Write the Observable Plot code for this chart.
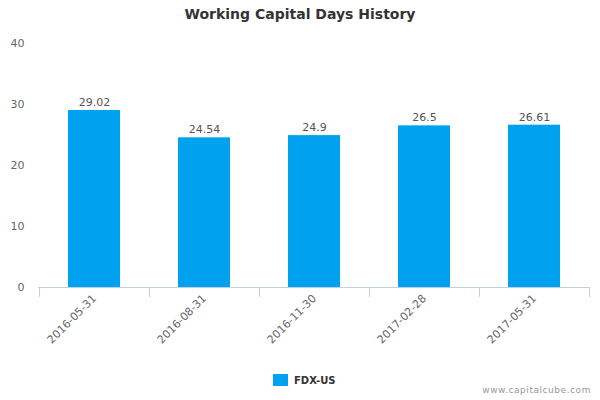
<!DOCTYPE html>
<html>
<head>
<meta charset="utf-8">
<script src="https://cdn.jsdelivr.net/npm/d3@7"></script>
<script src="https://cdn.jsdelivr.net/npm/@observablehq/plot@0.6"></script>
<style>
  html, body { margin: 0; padding: 0; background: #fff; }
  #wrap { position: relative; width: 600px; height: 400px; font-family: "DejaVu Sans", Verdana, sans-serif; }
  #title { position: absolute; left: 0; top: 6px; width: 600px; text-align: center; font-size: 14px; font-weight: bold; color: #333; }
  #legend { position: absolute; left: 273px; top: 374px; font-size: 10px; font-weight: bold; color: #333; display: flex; align-items: center; }
  #legend .sw { display: inline-block; width: 15px; height: 12px; background: #00a2f0; margin-right: 6px; }
  #credit { position: absolute; right: 9px; top: 385px; font-size: 9px; color: #999; letter-spacing: 0.55px; }
  svg { position: absolute; left: 0; top: 0; }
</style>
</head>
<body>
<div id="wrap">
  <div id="chart"></div>
  <div id="title">Working Capital Days History</div>
  <div id="legend"><span class="sw"></span><span>FDX-US</span></div>
  <div id="credit">www.capitalcube.com</div>
</div>
<script>
const dates = ["2016-05-31", "2016-08-31", "2016-11-30", "2017-02-28", "2017-05-31"];
const values = [29.02, 24.54, 24.9, 26.5, 26.61];
const yTicks = [0, 10, 20, 30, 40];
const seriesName = "FDX-US";

const data = dates.map((d, i) => ({date: d, value: values[i], series: seriesName}));

const axisColor = "#c0d0e0";
const barColor = "#00a2f0";

const chart = Plot.plot({
  width: 600,
  height: 400,
  marginLeft: 38,
  marginRight: 11,
  marginTop: 43,
  marginBottom: 113,
  style: {fontFamily: "DejaVu Sans, Verdana, sans-serif", background: "transparent"},
  x: {domain: dates, padding: 0, label: null},
  y: {domain: [0, 40], label: null},
  marks: [
    Plot.barY(data, {x: "date", y: "value", fill: barColor, insetLeft: 29, insetRight: 29}),
    Plot.text(data, {x: "date", y: "value", text: d => String(d.value), dy: -8, fill: "#555", fontSize: 11}),
    Plot.ruleY([0], {stroke: axisColor}),
    Plot.axisX({ticks: dates, tickSize: 10, tickFormat: () => "", dx: -55, stroke: axisColor}),
    Plot.axisX({ticks: [dates[dates.length - 1]], tickSize: 10, tickFormat: () => "", dx: 55, stroke: axisColor}),
    Plot.axisX({ticks: dates, tickSize: 0, tickPadding: 9, tickRotate: -45, fill: "#666", fontSize: 11}),
    Plot.axisY({ticks: yTicks, tickSize: 0, tickPadding: 14, fill: "#666", fontSize: 11})
  ]
});
document.getElementById("chart").appendChild(chart);
</script>
</body>
</html>
